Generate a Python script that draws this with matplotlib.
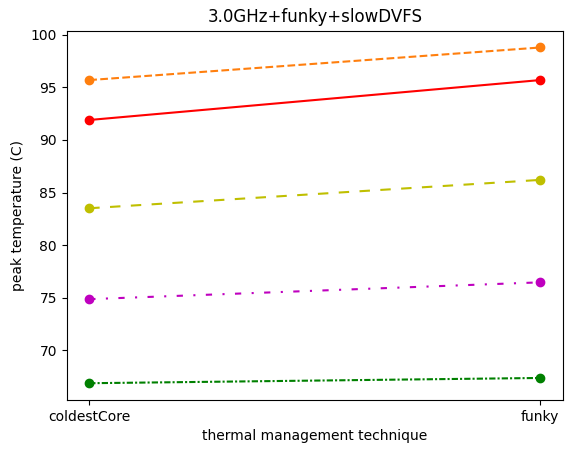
import matplotlib
matplotlib.use('Agg')
import matplotlib.pyplot as plt

techniques = ['coldestCore', 'funky']

# peak temperatures per configuration
orange_vals = [95.7, 98.8]
red_vals = [91.9, 95.7]
yellow_vals = [83.5, 86.2]
magenta_vals = [74.85, 76.45]
green_vals = [66.85, 67.35]

fig = plt.figure(figsize=(5.71, 4.53), dpi=100)
ax = fig.add_axes([0.1168, 0.117, 0.8687, 0.8152])

x = range(len(techniques))
ax.plot(x, orange_vals, color='tab:orange', linestyle='--', marker='o')
ax.plot(x, red_vals, color='r', linestyle='-', marker='o')
ax.plot(x, yellow_vals, color='y', linestyle=(0, (5, 5)), marker='o')
ax.plot(x, magenta_vals, color='m', linestyle=(0, (3, 5, 1, 5)), marker='o')
ax.plot(x, green_vals, color='g', linestyle=(0, (3, 1, 1, 1)), marker='o')

ax.set_xticks(list(x))
ax.set_xticklabels(techniques)
ax.set_xlabel('thermal management technique')
ax.set_ylabel('peak temperature (C)')
ax.set_title('3.0GHz+funky+slowDVFS')

fig.savefig('out.png', dpi=100)
